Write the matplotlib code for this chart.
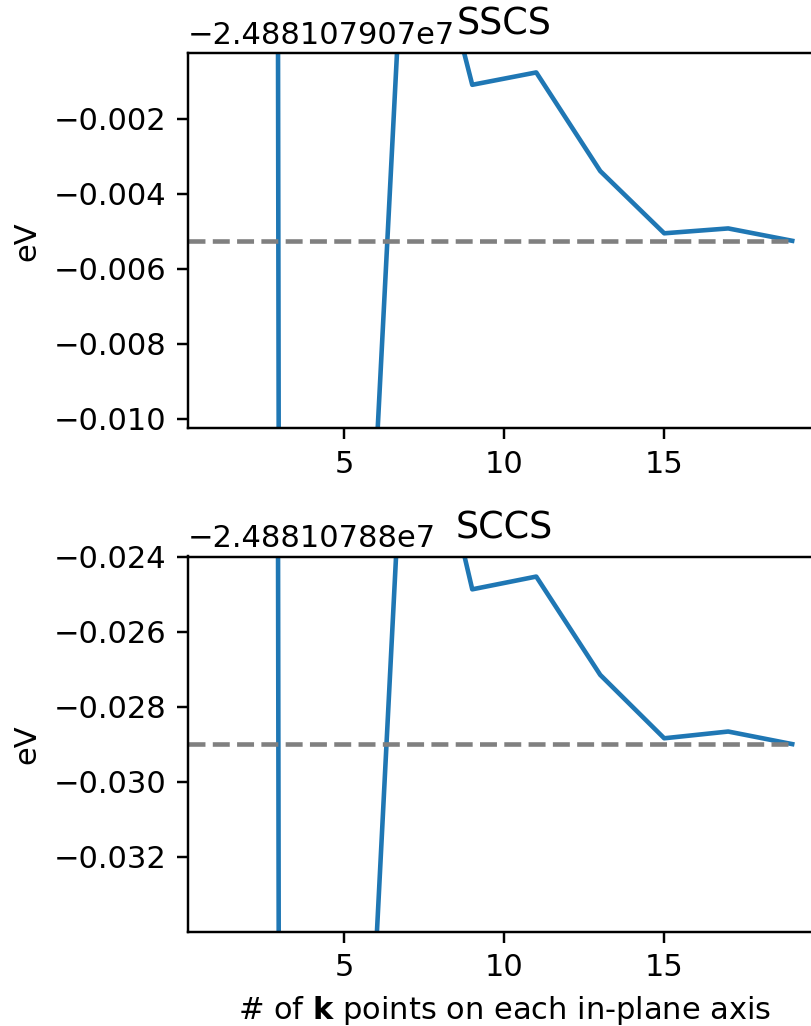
import matplotlib
matplotlib.use("Agg")
import matplotlib.pyplot as plt

# k points on each in-plane axis
k_points = [1, 3, 5, 7, 9, 11, 13, 15, 17, 19]

# total energies (eV)
E_sscs = [-24881078.12, -24881079.105, -24881079.0976, -24881079.06439,
          -24881079.07109, -24881079.07076, -24881079.07339,
          -24881079.07505, -24881079.07492, -24881079.07525]
E_sccs = [-24881077.87, -24881078.8585, -24881078.8511, -24881078.8176,
          -24881078.82487, -24881078.82453, -24881078.82715,
          -24881078.82884, -24881078.82866, -24881078.828995]

titles = ["SSCS", "SCCS"]
offsets = [-24881079.07, -24881078.8]
ylabel = "eV"
xlabel = r"# of $\mathbf{k}$ points on each in-plane axis"
window = 0.005

DPI = 220
W, H = 811, 1026
fig = plt.figure(figsize=(W / DPI, H / DPI), dpi=DPI)

# axes rectangles in pixels (left, top, right, bottom)
rects = [(187.5, 53.3, 821.0, 428.3), (187.5, 556.5, 821.0, 931.7)]

for i, (E, title, off) in enumerate(zip([E_sscs, E_sccs], titles, offsets)):
    l, t, r, b = rects[i]
    ax = fig.add_axes([l / W, 1 - b / H, (r - l) / W, (b - t) / H])
    ax.plot(k_points, E, color="#1f77b4", lw=1.5)
    ax.axhline(E[-1], xmax=0.95, color="gray", ls="--", lw=1.5)
    ax.set_ylim(E[-1] - window, E[-1] + window)
    ax.ticklabel_format(axis="y", useOffset=off, style="plain")
    ax.set_title(title)
    ax.set_ylabel(ylabel)
    if i == 1:
        ax.set_xlabel(xlabel)

fig.savefig("out.png", dpi=DPI)
